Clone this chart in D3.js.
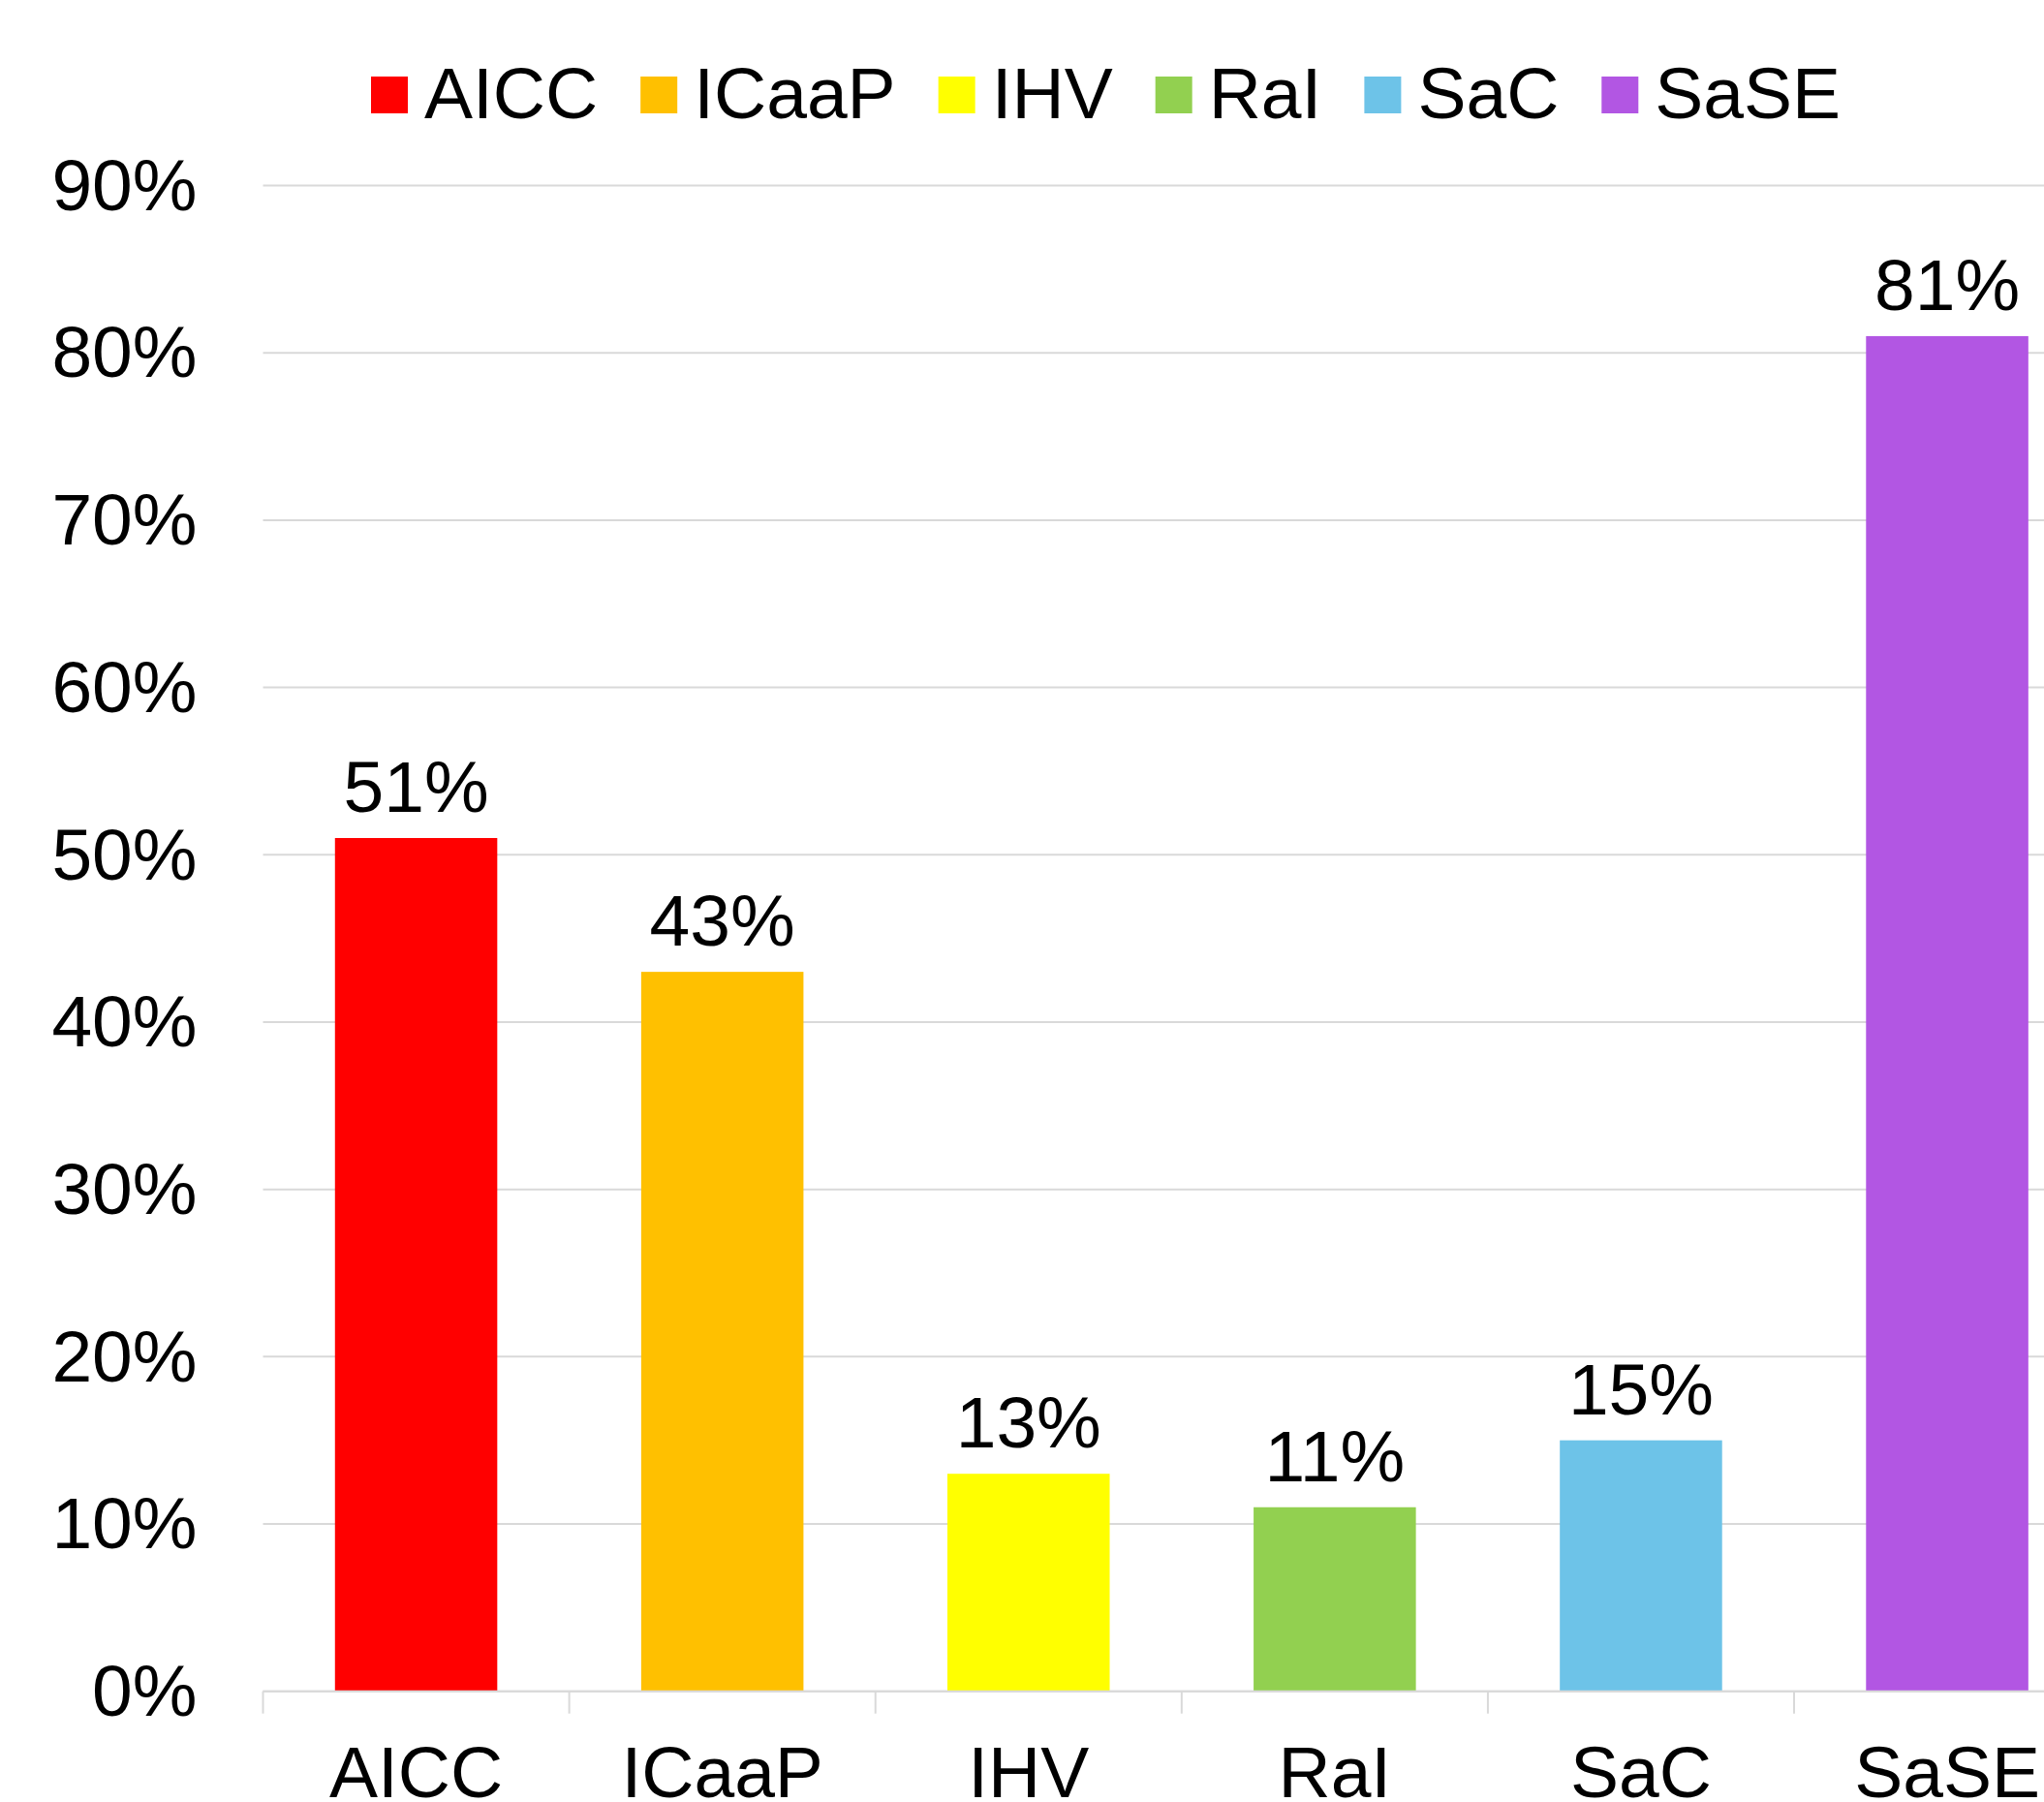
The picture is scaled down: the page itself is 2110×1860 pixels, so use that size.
<!DOCTYPE html>
<html>
<head>
<meta charset="utf-8">
<script src="https://cdn.jsdelivr.net/npm/d3@7"></script>
<style>
  body { margin: 0; background: #fff; }
  text { font-family: "Liberation Sans", Arial, sans-serif; fill: #000; }
</style>
</head>
<body>
<script>
var categories = ["AICC", "ICaaP", "IHV", "RaI", "SaC", "SaSE"];
var values = [0.51, 0.43, 0.13, 0.11, 0.15, 0.81];
var colors = ["#ff0000", "#ffc000", "#ffff00", "#92d050", "#6dc3e8", "#b256e3"];
var yTicks = [0, 0.1, 0.2, 0.3, 0.4, 0.5, 0.6, 0.7, 0.8, 0.9];

var width = 2110, height = 1860;
var fontSize = 75;

var svg = d3.select("body")
    .append("svg")
    .attr("width", width)
    .attr("height", height);

// plot area runs past the right edge, as in the original crop
var x = d3.scaleBand()
    .domain(categories)
    .range([271.5, 271.5 + 316.1 * 6])
    .paddingInner(0.47)
    .paddingOuter(0.235);

var y = d3.scaleLinear()
    .domain([0, 0.9])
    .range([1745.7, 191.5]);

// gridlines
svg.append("g")
    .selectAll("line")
    .data(yTicks)
    .enter()
    .append("line")
    .attr("x1", 271.5)
    .attr("x2", width)
    .attr("y1", (d) => y(d))
    .attr("y2", (d) => y(d))
    .style("stroke", "#d9d9d9")
    .style("stroke-width", "2px");

// y axis labels
var yAxis = d3.axisLeft(y)
    .tickValues(yTicks)
    .tickFormat(d3.format(".0%"))
    .tickSize(0)
    .tickPadding(68);

svg.append("g")
    .attr("transform", "translate(271.5,0)")
    .call(yAxis)
    .call((g) => g.select(".domain").remove())
    .selectAll("text")
    .style("font-size", fontSize + "px")
    .style("font-family", "'Liberation Sans', Arial, sans-serif")
    .attr("fill", "#000")
    .attr("dy", "0.33em");

// bars
svg.append("g")
    .selectAll("rect")
    .data(values)
    .enter()
    .append("rect")
    .attr("x", (d, i) => x(categories[i]))
    .attr("width", x.bandwidth())
    .attr("y", (d) => y(d))
    .attr("height", (d) => y(0) - y(d))
    .style("fill", (d, i) => colors[i]);

// x axis line and tick marks between categories
var step = x.step();
var boundaries = d3.range(categories.length + 1).map((i) => x.range()[0] + i * step);

svg.append("line")
    .attr("x1", 271.5)
    .attr("x2", width)
    .attr("y1", y(0))
    .attr("y2", y(0))
    .style("stroke", "#d9d9d9")
    .style("stroke-width", "2px");

svg.append("g")
    .selectAll("line")
    .data(boundaries)
    .enter()
    .append("line")
    .attr("x1", (d) => d)
    .attr("x2", (d) => d)
    .attr("y1", y(0))
    .attr("y2", y(0) + 23)
    .style("stroke", "#d9d9d9")
    .style("stroke-width", "2px");

// category labels
svg.append("g")
    .selectAll("text")
    .data(categories)
    .enter()
    .append("text")
    .attr("x", (d) => x(d) + x.bandwidth() / 2)
    .attr("y", 1855)
    .attr("text-anchor", "middle")
    .style("font-size", fontSize + "px")
    .text((d) => d);

// value labels
svg.append("g")
    .selectAll("text")
    .data(values)
    .enter()
    .append("text")
    .attr("x", (d, i) => x(categories[i]) + x.bandwidth() / 2)
    .attr("y", (d) => y(d) - 27)
    .attr("text-anchor", "middle")
    .style("font-size", fontSize + "px")
    .text((d) => d3.format(".0%")(d));

// legend
var legend = svg.append("g");
var lx = 383;
categories.forEach(function (c, i) {
    legend.append("rect")
        .attr("x", lx)
        .attr("y", 79)
        .attr("width", 38)
        .attr("height", 38)
        .style("fill", colors[i]);
    var t = legend.append("text")
        .attr("x", lx + 55)
        .attr("y", 122)
        .style("font-size", fontSize + "px")
        .text(c);
    lx += 55 + t.node().getComputedTextLength() + 44;
});
</script>
</body>
</html>
